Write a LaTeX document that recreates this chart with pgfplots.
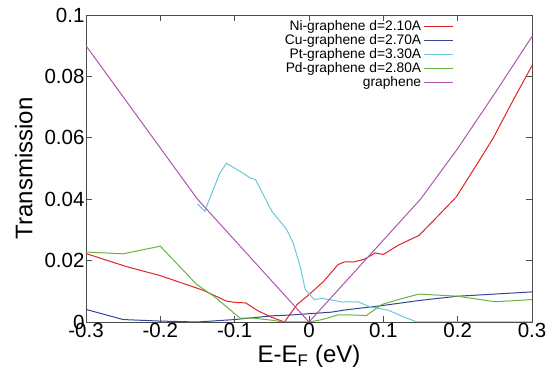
\documentclass[border=0pt]{standalone}
\usepackage{fontspec}
\setmainfont{Liberation Sans}
\usepackage{pgfplots}
\pgfplotsset{compat=1.18}
\usetikzlibrary{calc}
\definecolor{cNi}{RGB}{225,35,40}
\definecolor{cCu}{RGB}{50,70,150}
\definecolor{cPt}{RGB}{105,200,215}
\definecolor{cPd}{RGB}{105,180,60}
\definecolor{cGr}{RGB}{175,85,175}
\begin{document}
\begin{tikzpicture}
\begin{axis}[
  scale only axis, width=446pt, height=307pt,
  xmin=-0.3, xmax=0.3, ymin=0, ymax=0.1,
  xtick={-0.3,-0.2,-0.1,0,0.1,0.2,0.3},
  xticklabels={-0.3,-0.2,-0.1,0,0.1,0.2,0.3},
  ytick={0,0.02,0.04,0.06,0.08,0.1},
  yticklabels={0,0.02,0.04,0.06,0.08,0.1},
  tick align=inside, major tick length=6pt,
  tick style={black!70, line width=0.6pt},
  axis line style={black!70, line width=0.8pt},
  ticklabel style={font=\fontsize{20.5}{21}\selectfont},
  xticklabel style={yshift=2pt},
  yticklabel style={xshift=2pt},
  label style={font=\fontsize{24}{26}\selectfont},
  xlabel={E-E$_\mathrm{F}$ (eV)},
  ylabel={Transmission},
  xlabel style={yshift=0pt},
  ylabel style={yshift=5pt},
  legend style={draw=none, fill=none, at={(0.83,0.995)}, anchor=north east,
    font=\fontsize{13.8}{15}\selectfont, row sep=-1.6pt,
    cells={anchor=east}},
  legend plot pos=right,
  legend image code/.code={\draw[#1, line width=0.8pt] (0pt,0pt) -- (29pt,0pt);},
  every axis plot/.append style={line width=1pt},
]
\coordinate (sw) at (rel axis cs:0,0);
\coordinate (ne) at (rel axis cs:1,1);
\addplot[cNi] coordinates {(-0.3,0.0223)(-0.245,0.018)(-0.2,0.0151)(-0.142,0.0103)(-0.111,0.0068)(-0.1,0.0064)(-0.085,0.0062)(-0.069,0.0037)(-0.051,0.0016)(-0.033,0)(-0.016,0.0057)(0,0.0089)(0.02,0.0133)(0.039,0.0187)(0.048,0.0196)(0.061,0.0196)(0.075,0.0205)(0.089,0.0225)(0.1,0.022)(0.12,0.025)(0.148,0.0282)(0.173,0.0344)(0.198,0.0407)(0.225,0.051)(0.248,0.06)(0.275,0.0724)(0.3,0.0835)};
\addlegendentry{Ni-graphene d=2.10A}
\addplot[cCu] coordinates {(-0.3,0.0041)(-0.25,0.0008)(-0.2,0.0003)(-0.15,0.0)(-0.1,0.0008)(-0.05,0.002)(-0.023,0.0023)(0,0.0027)(0.03,0.0032)(0.048,0.0039)(0.1,0.0054)(0.148,0.007)(0.2,0.0084)(0.3,0.0098)};
\addlegendentry{Cu-graphene d=2.70A}
\addplot[cPt] coordinates {(-0.15,0.0385)(-0.14,0.036)(-0.138,0.0375)(-0.12,0.0485)(-0.111,0.0517)(-0.093,0.0491)(-0.079,0.0469)(-0.072,0.0464)(-0.05,0.0361)(-0.03,0.0301)(-0.021,0.0256)(-0.012,0.0181)(-0.005,0.0106)(0.007,0.0073)(0.018,0.0077)(0.045,0.0065)(0.066,0.0066)(0.08,0.0051)(0.107,0.0038)(0.125,0.0019)(0.145,0)(0.3,0)};
\addlegendentry{Pt-graphene d=3.30A}
\addplot[cPd] coordinates {(-0.3,0.0228)(-0.25,0.0222)(-0.2,0.0247)(-0.151,0.0122)(-0.128,0.0084)(-0.093,0.0013)(-0.076,0.0013)(-0.051,0.0006)(-0.033,0)(0,0)(0.016,0.0007)(0.039,0.0023)(0.057,0.0023)(0.077,0.0021)(0.098,0.0057)(0.12,0.0073)(0.148,0.0091)(0.2,0.0084)(0.25,0.0066)(0.3,0.0073)};
\addlegendentry{Pd-graphene d=2.80A}
\addplot[cGr] coordinates {(-0.3,0.09)(-0.15,0.04)(0,0)(0.15,0.04)(0.2,0.0565)(0.25,0.0745)(0.3,0.093)};
\addlegendentry{graphene}
\end{axis}
\pgfresetboundingbox
\path ($(sw)+(-86pt,-53pt)$) rectangle ($(ne)+(20pt,15pt)$);
\end{tikzpicture}
\end{document}
